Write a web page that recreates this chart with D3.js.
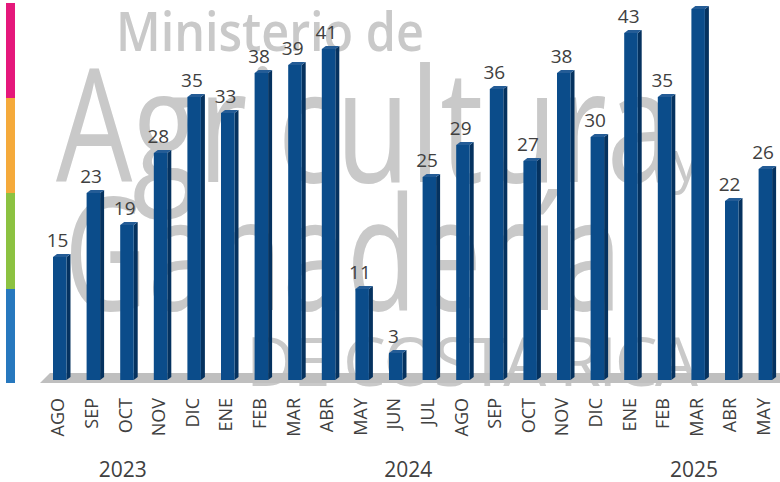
<!DOCTYPE html>
<html>
<head>
<meta charset="utf-8">
<script src="https://cdn.jsdelivr.net/npm/d3@7"></script>
<style>
  html, body { margin: 0; padding: 0; background: #ffffff; }
  svg { display: block; }
</style>
</head>
<body>
<svg id="chart" width="780" height="482"></svg>
<script>
// ---- data ----
const months = ["AGO","SEP","OCT","NOV","DIC","ENE","FEB","MAR","ABR","MAY","JUN","JUL",
                "AGO","SEP","OCT","NOV","DIC","ENE","FEB","MAR","ABR","MAY"];
const values = [15,23,19,28,35,33,38,39,41,11,3,25,29,36,27,38,30,43,35,46,22,26];
const years = ["2023","2024","2025"];
const yearCounts = [5,12,5];

// ---- setup ----
const W = 780, H = 482;
const svg = d3.select("#chart");
const FONT = "'Open Sans', 'DejaVu Sans', sans-serif";

const x = d3.scalePoint().domain(d3.range(months.length)).range([61.5, 767.1]);
const y = d3.scaleLinear().domain([0, 47]).range([377, 1]);
const baseFront = 380, depthX = 4, depthY = 3;

// ---- left decorative colour strip ----
const strip = [
  {c: "#e5187b", y0: 3, y1: 98},
  {c: "#f5aa3b", y0: 98, y1: 193},
  {c: "#8cc241", y0: 193, y1: 289},
  {c: "#2778be", y0: 289, y1: 383}
];
svg.append("g").selectAll("rect").data(strip).join("rect")
  .attr("x", 6).attr("width", 9)
  .attr("y", d => d.y0).attr("height", d => d.y1 - d.y0)
  .attr("fill", d => d.c);

// ---- watermark (squeezed horizontally to the logo's width) ----
const wm = svg.append("g").attr("fill", "#c9c9c9").attr("font-family", FONT);
function squeezed(str, px, py, fs, targetW, weight) {
  const t = wm.append("text").attr("font-size", fs).attr("font-weight", weight).text(str);
  const len = t.node().getComputedTextLength();
  const k = targetW / len;
  t.attr("transform", `translate(${px},${py}) scale(${k},1)`);
  return t;
}
squeezed("Ministerio de", 116, 51, 54, 308, 600);
squeezed("Agricultura", 56, 182, 158, 618, 500);
wm.append("text").attr("x", 672).attr("y", 181).attr("font-size", 56).text("y");
squeezed("Ganadería", 64, 310, 158, 558, 500);
(function() {
  const t = wm.append("text").attr("x", 246).attr("y", 386).attr("font-size", 68).text("DE COSTA RICA");
  const len = t.node().getComputedTextLength();
  const n = "DE COSTA RICA".length;
  t.attr("letter-spacing", (452 - len) / (n - 1));
})();

// ---- floor ----
svg.append("polygon")
  .attr("points", `40,383 50,373 ${W},373 ${W},383`)
  .attr("fill", "#bfbfbf");

// ---- bars (3D-style) ----
const bars = svg.append("g").selectAll("g").data(values).join("g");
bars.each(function(v, i) {
  const g = d3.select(this);
  const cx = x(i);
  const x0 = cx - 8.5, x1 = cx + 5;
  const yt = y(v);
  g.append("polygon")
    .attr("points", `${x1},${yt} ${x1+depthX},${yt-depthY} ${x1+depthX},${baseFront-depthY} ${x1},${baseFront}`)
    .attr("fill", "#05325f");
  g.append("rect")
    .attr("x", x0).attr("y", yt).attr("width", x1 - x0).attr("height", baseFront - yt)
    .attr("fill", "#0b4c8a");
  g.append("polygon")
    .attr("points", `${x0},${yt} ${x0+depthX},${yt-depthY} ${x1+depthX},${yt-depthY} ${x1},${yt}`)
    .attr("fill", "#245c96");
});

// ---- value labels ----
const LABEL_FS = 19;
svg.append("g").selectAll("text")
  .data(values.map((v, i) => ({v, i})).filter(d => y(d.v) - 10 - LABEL_FS * 0.72 > 0))
  .join("text")
  .attr("x", d => x(d.i) - 4)
  .attr("y", d => y(d.v) - 10)
  .attr("text-anchor", "middle")
  .attr("font-family", FONT).attr("font-size", LABEL_FS)
  .attr("fill", "#404040")
  .text(d => d.v);

// ---- month axis ----
const axis = d3.axisBottom(x).tickSize(0).tickFormat(i => months[i]);
const ax = svg.append("g").attr("transform", "translate(0,398)").call(axis);
ax.select(".domain").remove();
ax.selectAll("text")
  .attr("transform", "rotate(-90)")
  .attr("x", 0).attr("y", -4).attr("dy", "0.35em")
  .attr("text-anchor", "end")
  .attr("font-family", FONT).attr("font-size", 18)
  .attr("fill", "#404040");

// ---- year labels ----
let start = 0;
const yearPos = years.map((yr, k) => {
  const idx = d3.range(start, start + yearCounts[k]);
  start += yearCounts[k];
  return {yr, cx: d3.mean(idx, i => x(i)) - 6};
});
svg.append("g").selectAll("text").data(yearPos).join("text")
  .attr("x", d => d.cx).attr("y", 477)
  .attr("text-anchor", "middle")
  .attr("font-family", FONT).attr("font-size", 21)
  .attr("fill", "#404040")
  .text(d => d.yr);
</script>
</body>
</html>
